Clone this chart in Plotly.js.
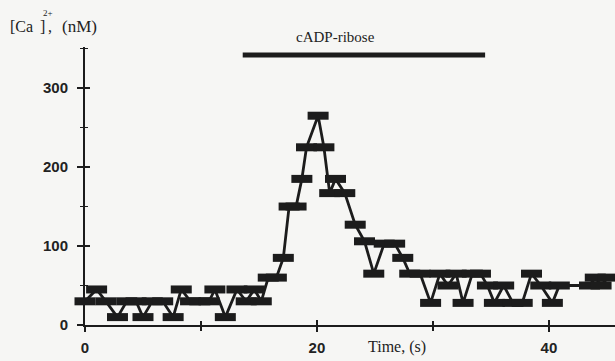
<!DOCTYPE html>
<html>
<head>
<meta charset="utf-8">
<script src="https://cdn.plot.ly/plotly-3.0.1.min.js"></script>
<style>
  html, body { margin: 0; padding: 0; background: #f6f6f4; }
  #chart { width: 615px; height: 361px; }
</style>
</head>
<body>
<div id="chart"></div>
<script>
// Cytosolic calcium trace, sampled in time (s) and concentration (nM)
const timeSec = [
  0.0, 1.0, 1.8, 2.8, 3.6, 4.4, 5.0, 5.8, 6.7, 7.6,
  8.3, 9.1, 9.9, 10.7, 11.2, 12.1, 13.1, 13.9, 14.6, 15.2,
  15.8, 16.5, 17.1, 17.6, 18.2, 18.7, 19.1, 20.1, 20.6, 21.1,
  21.6, 22.4, 23.3, 24.1, 24.9, 25.8, 26.7, 27.4, 28.0, 28.9,
  29.8, 30.6, 31.3, 32.0, 32.6, 33.4, 34.1, 34.7, 35.3, 36.1,
  36.9, 37.7, 38.5, 39.3, 40.3, 40.9, 43.5, 44.0, 44.5, 45.1
];
const caNanoMolar = [
  30, 45, 30, 10, 30, 30, 10, 30, 30, 10,
  45, 30, 30, 30, 45, 10, 45, 30, 45, 30,
  60, 60, 85, 150, 150, 185, 225, 265, 225, 167,
  185, 167, 127, 106, 65, 103, 103, 85, 65, 65,
  28, 65, 50, 65, 28, 65, 65, 50, 28, 50,
  28, 28, 65, 50, 28, 50, 50, 60, 50, 60
];

// Period of cADP-ribose application
const cadprLabel = 'cADP-ribose';
const cadprStart = 13.6;
const cadprEnd = 34.5;
const cadprLevel = 342;

// Axis ticks
const xTickVals = [0, 20, 40];
const xMinorVals = [10, 30];
const yTickVals = [0, 100, 200, 300];
const yMinorVals = [50, 150, 250, 350];

const xRange = [0, 45.7];
const yRange = [0, 352];
const ink = '#1c1c1c';

const traces = [
  {
    x: timeSec,
    y: caNanoMolar,
    type: 'scatter',
    mode: 'lines+markers',
    line: { color: ink, width: 2.8 },
    marker: { symbol: 'line-ew', size: 15, line: { color: ink, width: 8 } },
    cliponaxis: false,
    hoverinfo: 'x+y'
  },
  {
    x: [cadprStart, cadprEnd],
    y: [cadprLevel, cadprLevel],
    xaxis: 'x2',
    yaxis: 'y2',
    type: 'scatter',
    mode: 'lines',
    line: { color: ink, width: 5 },
    cliponaxis: false,
    hoverinfo: 'skip'
  }
];

const tickFont = { family: 'Liberation Sans, Arial, sans-serif', size: 15, color: '#222', weight: 'bold' };
const serifFamily = 'Liberation Serif, Times New Roman, serif';
const serif = { family: serifFamily, size: 15, color: '#222' };
const serifWide = { family: serifFamily, size: 16, color: '#222' };

function note(text, x, y, font, xanchor) {
  return {
    text: text,
    xref: 'paper', yref: 'paper',
    x: x, y: y,
    xanchor: xanchor || 'left', yanchor: 'middle',
    showarrow: false,
    font: font
  };
}

const layout = {
  width: 615,
  height: 361,
  margin: { l: 85, r: 0, t: 47, b: 36 },
  paper_bgcolor: '#f6f6f4',
  plot_bgcolor: '#f6f6f4',
  showlegend: false,
  xaxis: {
    range: xRange,
    showgrid: false,
    zeroline: false,
    showline: true,
    linecolor: ink,
    linewidth: 2,
    ticks: 'outside',
    ticklen: 5,
    tickwidth: 2,
    tickcolor: ink,
    tickmode: 'array',
    tickvals: xTickVals,
    ticktext: xTickVals.map(String),
    tickfont: tickFont,
    ticklabelstandoff: 3,
    minor: { tickmode: 'array', tickvals: xMinorVals, ticks: 'outside', ticklen: 4, tickwidth: 1.5, tickcolor: ink }
  },
  yaxis: {
    range: yRange,
    showgrid: false,
    zeroline: false,
    showline: true,
    linecolor: ink,
    linewidth: 2,
    ticks: 'outside',
    ticklen: 6,
    tickwidth: 2,
    tickcolor: ink,
    tickmode: 'array',
    tickvals: yTickVals,
    ticktext: yTickVals.map(String),
    tickfont: tickFont,
    ticklabelstandoff: 6,
    minor: { tickmode: 'array', tickvals: yMinorVals, ticks: 'outside', ticklen: 3, tickwidth: 1.5, tickcolor: ink }
  },
  // second pair of axes carries the inner half of each cross tick
  xaxis2: {
    overlaying: 'x',
    anchor: 'y2',
    side: 'bottom',
    range: xRange,
    showgrid: false,
    zeroline: false,
    showline: false,
    showticklabels: false,
    ticks: 'inside',
    ticklen: 5,
    tickwidth: 2,
    tickcolor: ink,
    tickmode: 'array',
    tickvals: xTickVals,
    minor: { tickmode: 'array', tickvals: xMinorVals, ticks: 'inside', ticklen: 4, tickwidth: 1.5, tickcolor: ink }
  },
  yaxis2: {
    overlaying: 'y',
    anchor: 'x2',
    side: 'left',
    range: yRange,
    showgrid: false,
    zeroline: false,
    showline: false,
    showticklabels: false,
    ticks: 'inside',
    ticklen: 5,
    tickwidth: 2,
    tickcolor: ink,
    tickmode: 'array',
    tickvals: yTickVals,
    minor: { tickmode: 'array', tickvals: yMinorVals, ticks: 'inside', ticklen: 3, tickwidth: 1.5, tickcolor: ink }
  },
  annotations: [
    // concentration label, with the charge set above the closing bracket
    note('[Ca', -0.1453, 1.072, serifWide),
    note(']', -0.0887, 1.072, serifWide),
    note('2+', -0.083, 1.123, { family: serifFamily, size: 9, color: '#222' }),
    note(',', -0.0735, 1.072, serifWide),
    note('(nM)', -0.047, 1.072, { family: serifFamily, size: 17, color: '#222' }),
    note(cadprLabel, 0.472, 1.036, serif, 'center'),
    note('Time, (s)', 0.589, -0.079, serifWide, 'center')
  ]
};

Plotly.newPlot('chart', traces, layout, { staticPlot: true, displayModeBar: false });
</script>
</body>
</html>
